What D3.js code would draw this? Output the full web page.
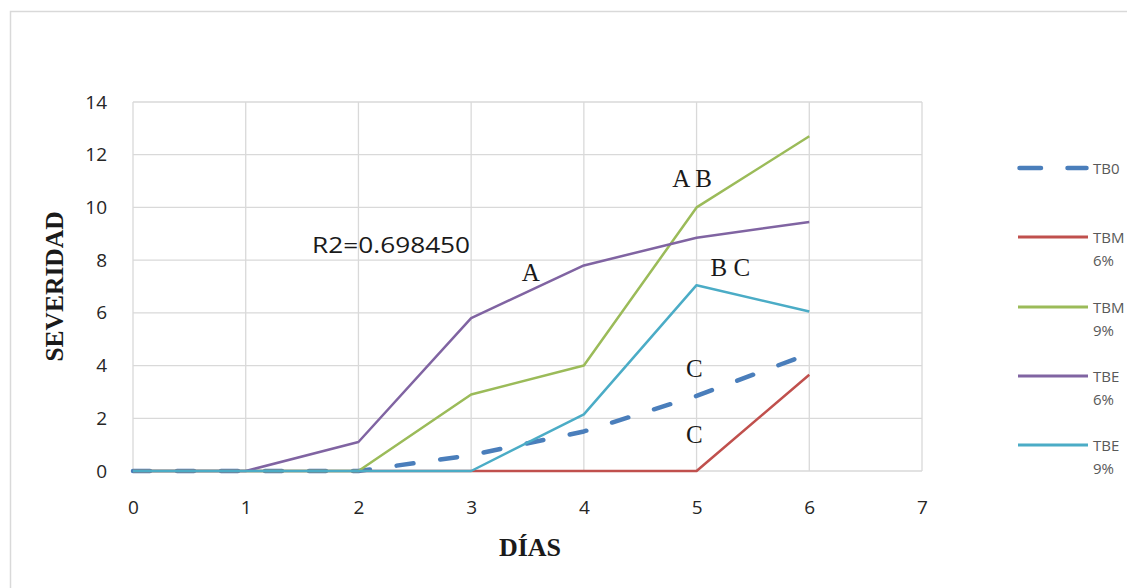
<!DOCTYPE html>
<html><head><meta charset="utf-8">
<script src="https://cdn.jsdelivr.net/npm/d3@7"></script>
<style>body{margin:0;background:#fff;} svg{display:block;}</style>
</head><body>
<svg id="c" width="1127" height="588"></svg>
<script>
const days = [0, 1, 2, 3, 4, 5, 6];
const xTicks = [0, 1, 2, 3, 4, 5, 6, 7];
const yTicks = [0, 2, 4, 6, 8, 10, 12, 14];
const seriesNames = ["TB0", "TBM 6%", "TBM 9%", "TBE 6%", "TBE 9%"];
const tb0 = [0, 0, 0, 0.6, 1.5, 2.85, 4.45];
const tbm6 = [0, 0, 0, 0, 0, 0, 3.65];
const tbm9 = [0, 0, 0, 2.9, 4.0, 10.0, 12.7];
const tbe6 = [0, 0, 1.1, 5.8, 7.8, 8.85, 9.45];
const tbe9 = [0, 0, 0, 0, 2.15, 7.05, 6.05];
const colors = ["#4a7ebb", "#c0504d", "#9bbb59", "#8064a2", "#4bacc6"];
const annText = ["R2=0.698450", "A B", "B C", "C", "C", "A"];
const annX = [2.29, 4.96, 5.30, 4.98, 4.98, 3.53];
const annY = [8.26, 10.76, 7.40, 3.57, 1.06, 7.21];

const svg = d3.select("#c");
// outer chart frame
svg.append("rect").attr("x", 10.5).attr("y", 11.5).attr("width", 1130).attr("height", 600)
  .attr("fill", "#fff").attr("stroke", "#d9d9d9").attr("stroke-width", 1.5);

const x = d3.scaleLinear().domain([0, 7]).range([133, 922]);
const y = d3.scaleLinear().domain([0, 14]).range([471, 102]);

// gridlines
const g = svg.append("g");
g.selectAll(".vg").data(xTicks).join("line")
  .attr("x1", d => x(d)).attr("x2", d => x(d)).attr("y1", y(14)).attr("y2", y(0))
  .attr("stroke", "#d9d9d9").attr("stroke-width", 1.3);
g.selectAll(".hg").data(yTicks).join("line")
  .attr("x1", x(0)).attr("x2", x(7)).attr("y1", d => y(d)).attr("y2", d => y(d))
  .attr("stroke", "#d9d9d9").attr("stroke-width", 1.3);

// axes via d3 axis
const yAxis = svg.append("g").attr("transform", `translate(${x(0)},0)`)
  .call(d3.axisLeft(y).tickValues(yTicks).tickFormat(d3.format("d")).tickSize(0).tickPadding(26));
const xAxis = svg.append("g").attr("transform", `translate(0,${y(0)})`)
  .call(d3.axisBottom(x).tickValues(xTicks).tickFormat(d3.format("d")).tickSize(0));
[yAxis, xAxis].forEach(a => {
  a.select(".domain").remove();
  a.selectAll("text").attr("font-family", "'Open Sans', sans-serif").attr("font-size", 19).attr("fill", "#262626");
});
xAxis.selectAll("text").attr("y", 43).attr("dy", 0);

// axis titles
svg.append("text").attr("transform", `translate(63,${(y(0)+y(14))/2}) rotate(-90)`)
  .attr("text-anchor", "middle").attr("font-family", "'Liberation Serif', serif")
  .attr("font-weight", "bold").attr("font-size", 25.5).attr("fill", "#1a1a1a").text("SEVERIDAD");
svg.append("text").attr("x", 530).attr("y", 556)
  .attr("text-anchor", "middle").attr("font-family", "'Liberation Serif', serif")
  .attr("font-weight", "bold").attr("font-size", 26).attr("fill", "#1a1a1a").text("DÍAS");

// series
const all = [tb0, tbm6, tbm9, tbe6, tbe9];
const line = d3.line().x((d, i) => x(days[i])).y(d => y(d));
all.forEach((s, k) => {
  const p = svg.append("path").datum(s).attr("d", line).attr("fill", "none")
    .attr("stroke", colors[k]).attr("stroke-linejoin", "round");
  if (k === 0) p.attr("stroke-width", 4.5).attr("stroke-dasharray", "17,27").attr("stroke-linecap", "round");
  else p.attr("stroke-width", 2.5);
});

// annotations
annText.forEach((t, i) => {
  const isR = i === 0;
  const tx = svg.append("text").attr("x", x(annX[i])).attr("y", y(annY[i]))
    .attr("text-anchor", "middle")
    .attr("font-family", isR ? "'Open Sans', sans-serif" : "'Liberation Serif', serif")
    .attr("font-size", isR ? 21 : 25).attr("fill", "#1a1a1a").text(t);
  if (isR) tx.attr("textLength", 158).attr("lengthAdjust", "spacingAndGlyphs");
});

// legend
const legY = [168, 237, 307, 376, 445];
seriesNames.forEach((n, k) => {
  const l = svg.append("line").attr("x1", 1018).attr("x2", 1088).attr("y1", legY[k]).attr("y2", legY[k])
    .attr("stroke", colors[k]);
  if (k === 0) l.attr("stroke-width", 4.5).attr("stroke-dasharray", "21.5,26.5").attr("stroke-linecap", "round").attr("x1", 1019.5).attr("x2", 1086.5);
  else l.attr("stroke-width", 3);
  const parts = n.split(" ");
  const tx = svg.append("text").attr("x", 1093).attr("y", legY[k] + 6)
    .attr("font-family", "'Open Sans', sans-serif").attr("font-size", 15).attr("fill", "#595959");
  parts.forEach((p, j) => tx.append("tspan").attr("x", 1093).attr("dy", j === 0 ? 0 : 23).text(p));
});
</script>
</body></html>
